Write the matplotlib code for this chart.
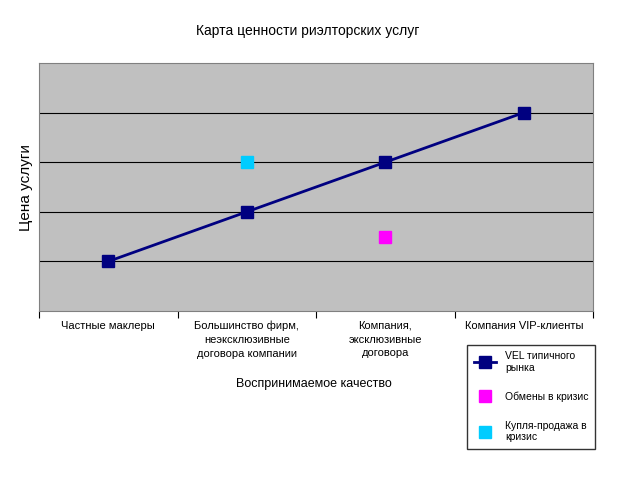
import matplotlib.pyplot as plt

categories = ['Частные маклеры', 'Большинство фирм,\nнеэксклюзивные\nдоговора компании',
              'Компания,\nэксклюзивные\nдоговора', 'Компания VIP-клиенты']
vel_y = [1, 2, 3, 4]
crisis_swap_x, crisis_swap_y = [2], [1.5]
crisis_sale_x, crisis_sale_y = [1], [3]

plt.rcParams['font.family'] = ['Liberation Sans', 'DejaVu Sans']
fig = plt.figure(figsize=(6.4, 4.8), dpi=100)
ax = fig.add_axes([0.061, 0.352, 0.866, 0.517])
ax.set_facecolor('#c0c0c0')

x = list(range(len(categories)))
ax.plot(x, vel_y, color='#000080', lw=2, marker='s', ms=8, label='VEL типичного\nрынка')
ax.plot(crisis_swap_x, crisis_swap_y, ls='none', marker='s', ms=8, color='#ff00ff', label='Обмены в кризис')
ax.plot(crisis_sale_x, crisis_sale_y, ls='none', marker='s', ms=8, color='#00ccff', label='Купля-продажа в\nкризис')

ax.set_xlim(-0.5, 3.5)
ax.set_ylim(0, 5)
ax.set_yticks([1, 2, 3, 4])
ax.set_yticklabels([])
ax.tick_params(axis='y', length=0)
ax.grid(axis='y', color='black', lw=0.8)
ax.set_xticks([-0.5, 0.5, 1.5, 2.5, 3.5], minor=False)
ax.set_xticklabels([])
ax.tick_params(axis='x', length=5, direction='out')
for i, c in enumerate(categories):
    ax.text(i, -0.2, c, ha='center', va='top', fontsize=8, linespacing=1.45,
            transform=ax.transData)
for s in ax.spines.values():
    s.set_color('#808080')

fig.text(0.48, 0.935, 'Карта ценности риэлторских услуг', ha='center', va='center', fontsize=10)
fig.text(0.04, 0.61, 'Цена услуги', rotation=90, ha='center', va='center', fontsize=11)
fig.text(0.49, 0.2, 'Воспринимаемое качество', ha='center', va='center', fontsize=9)

leg = fig.legend(loc='upper left', bbox_to_anchor=(0.722, 0.292), fontsize=7.5,
                 frameon=True, fancybox=False, edgecolor='black', labelspacing=1.8,
                 handlelength=2.2, borderpad=0.6)
leg.get_frame().set_linewidth(1)

fig.savefig('out.png')
